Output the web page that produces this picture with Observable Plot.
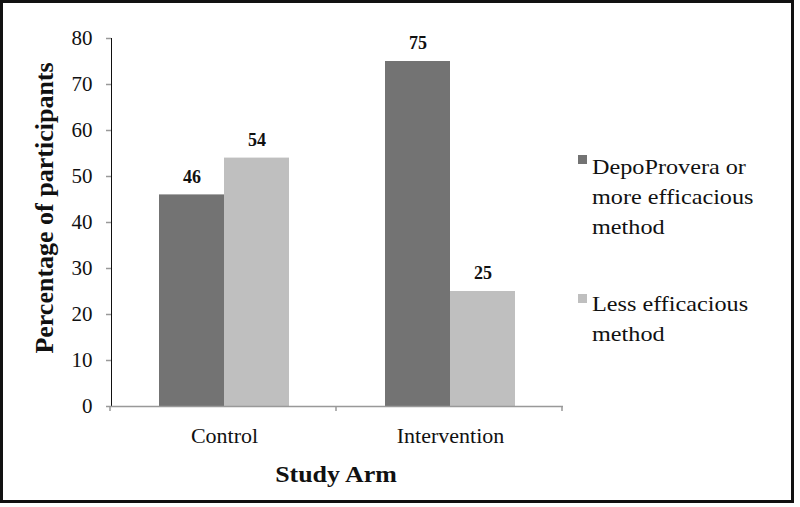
<!DOCTYPE html>
<html>
<head>
<meta charset="utf-8">
<script src="https://cdn.jsdelivr.net/npm/d3@7"></script>
<script src="https://cdn.jsdelivr.net/npm/@observablehq/plot@0.6"></script>
<style>
  html, body { margin: 0; padding: 0; background: #fff; }
  #wrap { position: relative; width: 800px; height: 507px; overflow: hidden; }
  #frame { position: absolute; left: 0; top: 0; width: 788px; height: 497px; border: 3px solid #111; box-sizing: content-box; pointer-events: none; }
  .serif { font-family: "Liberation Serif", "Times New Roman", serif; color: #111; }
  .lg { position: absolute; font-size: 22px; line-height: 30px; transform: scaleX(1.1); transform-origin: 0 0; white-space: nowrap; }
  .sw { position: absolute; width: 9px; height: 9px; }
  #ytitle { position: absolute; left: 45px; top: 208px; transform: translate(-50%, -50%) rotate(-90deg); font-size: 26px; font-weight: bold; white-space: nowrap; }
  #xtitle { position: absolute; left: 336px; top: 474px; transform: translate(-50%, -50%) scaleX(1.08); font-size: 24px; font-weight: bold; white-space: nowrap; }
</style>
</head>
<body>
<div id="wrap" class="serif"></div>
<script>
const arms = ["Control", "Intervention"];
const seriesNames = ["DepoProvera or more efficacious method", "Less efficacious method"];
const seriesColors = ["#737373", "#bfbfbf"];
const dpmValues = [46, 75];
const lessValues = [54, 25];
const yTicks = [0, 10, 20, 30, 40, 50, 60, 70, 80];

const rows = [];
arms.forEach((a, i) => {
  rows.push({arm: a, series: seriesNames[0], value: dpmValues[i]});
  rows.push({arm: a, series: seriesNames[1], value: lessValues[i]});
});

const font = '"Liberation Serif", "Times New Roman", serif';
const axisGray = "#999";

const chart = Plot.plot({
  width: 800,
  height: 507,
  marginTop: 38,
  marginBottom: 101,
  marginLeft: 110,
  marginRight: 237,
  style: {fontFamily: font, fontSize: "21px", color: "#111", background: "transparent"},
  facet: {data: rows, x: "arm", marginTop: 0, marginBottom: 0, marginLeft: 0, marginRight: 0},
  fx: {domain: arms, padding: 0, label: null, tickSize: 0, tickPadding: 21},
  x: {domain: seriesNames, paddingInner: 0, paddingOuter: 0.738, axis: null},
  y: {domain: [0, 80], ticks: yTicks, tickSize: 5, tickPadding: 14, label: null, line: true, tickFormat: d => String(d)},
  color: {domain: seriesNames, range: seriesColors},
  marks: [
    Plot.barY(rows, {x: "series", y: "value", fill: "series"}),
    Plot.ruleY([0], {stroke: axisGray, strokeWidth: 1.5}),
    Plot.text(rows, {x: "series", y: "value", text: d => String(d.value), dy: -18, fontWeight: "bold", fontSize: 18, fill: "#111"})
  ]
});

const wrap = document.getElementById("wrap");
wrap.appendChild(chart);
const svg = d3.select(chart);

// style axes grey (lines/ticks)
svg.selectAll("g[aria-label='y-axis'] path, g[aria-label='y-axis tick'] path, g[aria-label='y-axis line'] line, g[aria-label='y-axis'] line")
  .attr("stroke", axisGray).attr("stroke-width", 1.5);
svg.selectAll("g[aria-label='y-axis'] text, g[aria-label='y-axis tick label'] text").attr("font-size", 21);
svg.selectAll("g[aria-label='fx-axis'] text, g[aria-label='fx-axis tick label'] text").attr("font-size", 22);

// boundary tick marks on category axis (Excel style)
const fx = chart.scale("fx");
const y = chart.scale("y");
const y0 = y.range[0];
const x0 = fx.range[0];
const step = fx.step;
const ticks = d3.range(arms.length + 1).map(i => x0 + i * step);
svg.append("g").selectAll("line").data(ticks).join("line")
  .attr("x1", d => d).attr("x2", d => d)
  .attr("y1", y0).attr("y2", y0 + 5)
  .attr("stroke", axisGray).attr("stroke-width", 1.5);

// axis titles
const yt = document.createElement("div"); yt.id = "ytitle"; yt.textContent = "Percentage of participants"; wrap.appendChild(yt);
const xt = document.createElement("div"); xt.id = "xtitle"; xt.textContent = "Study Arm"; wrap.appendChild(xt);

// legend
const legendItems = [
  {lines: ["DepoProvera or", "more efficacious", "method"], top: 152, swTop: 155},
  {lines: ["Less efficacious", "method"], top: 289, swTop: 294}
];
legendItems.forEach((it, i) => {
  const sw = document.createElement("div");
  sw.className = "sw";
  sw.style.left = "578px"; sw.style.top = it.swTop + "px"; sw.style.background = seriesColors[i];
  wrap.appendChild(sw);
  const t = document.createElement("div");
  t.className = "lg";
  t.style.left = "592px"; t.style.top = it.top + "px";
  t.innerHTML = it.lines.join("<br>");
  wrap.appendChild(t);
});

const fr = document.createElement("div"); fr.id = "frame"; wrap.appendChild(fr);
</script>
</body>
</html>
